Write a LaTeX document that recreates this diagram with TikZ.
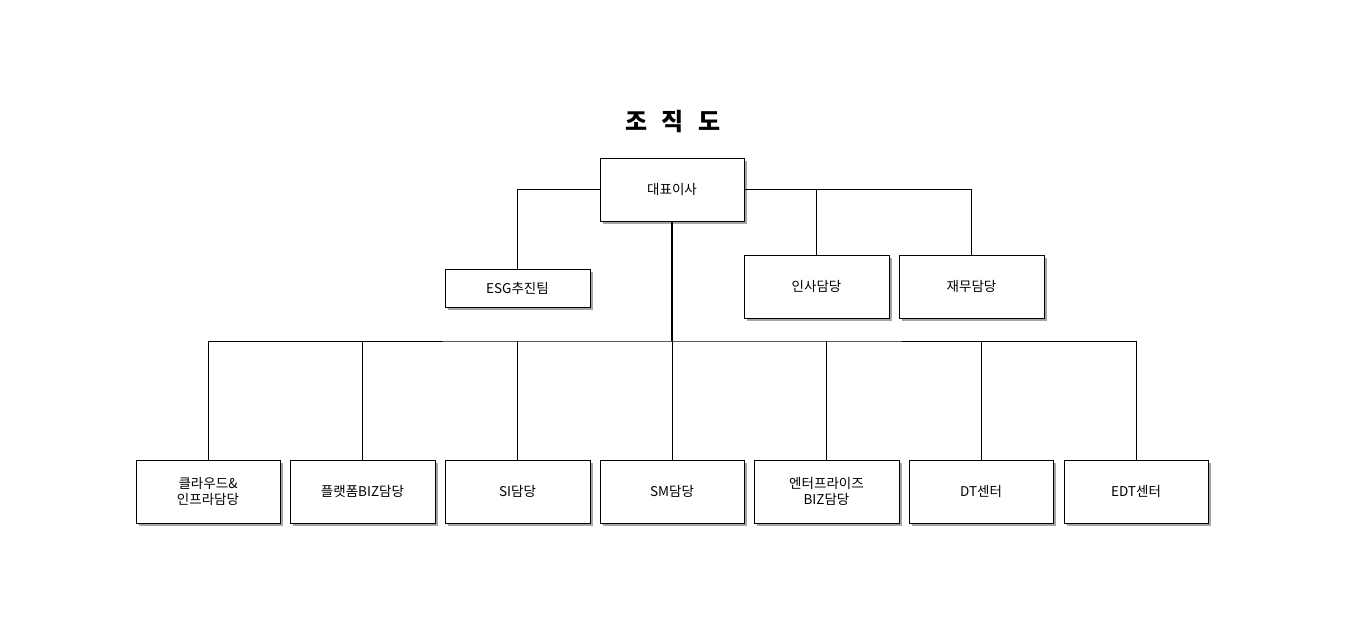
\documentclass[tikz,border=0pt]{standalone}
\usepackage{fontspec}
\setmainfont{Noto Sans CJK KR}
\usetikzlibrary{shadows}
\begin{document}
\begin{tikzpicture}[x=1pt,y=-1pt,
  box/.style={draw=black,fill=white,line width=0.8pt,inner sep=0pt,align=center,font=\fontsize{13.5}{16}\selectfont,
    drop shadow={shadow xshift=2.5pt,shadow yshift=-2.5pt,fill=black!35,opacity=1}},
  ln/.style={line width=0.7pt}]
\useasboundingbox (0,0) rectangle (1350,629);
\node[font=\bfseries\fontsize{24}{28}\selectfont] (title) at (673,122) {조\hspace{14pt}직\hspace{14pt}도};
\newcommand{\bx}[6]{\node[box,minimum width=#4-#2,minimum height=#5-#3] (#1) at ({(#2+#4)/2},{(#3+#5)/2}) {#6};}
\bx{ceo}{600}{158}{744}{221}{대표이사}
\bx{esg}{445}{269}{590}{307}{ESG추진팀}
\bx{hr}{744}{255}{889}{318}{인사담당}
\bx{fin}{899}{255}{1044}{318}{재무담당}
\bx{b1}{136}{460}{280}{523}{클라우드\&\\인프라담당}
\bx{b2}{290}{460}{435}{523}{플랫폼BIZ담당}
\bx{b3}{445}{460}{590}{523}{SI담당}
\bx{b4}{600}{460}{744}{523}{SM담당}
\bx{b5}{754}{460}{899}{523}{엔터프라이즈\\BIZ담당}
\bx{b6}{909}{460}{1053}{523}{DT센터}
\bx{b7}{1064}{460}{1208}{523}{EDT센터}
\coordinate (bar) at (672,341);
\draw[ln] (ceo.west) -| (esg.north);
\draw[ln] (ceo.east) -| (hr.north);
\draw[ln] (ceo.east) -| (fin.north);
\draw[line width=1.5pt] (ceo.south) -- (bar);
\draw[ln] (b1.north) |- (bar) -| (b7.north);
\foreach \b in {b2,b3,b4,b5,b6} \draw[ln] (\b.north) -- (\b.north |- bar);
\end{tikzpicture}
\end{document}
